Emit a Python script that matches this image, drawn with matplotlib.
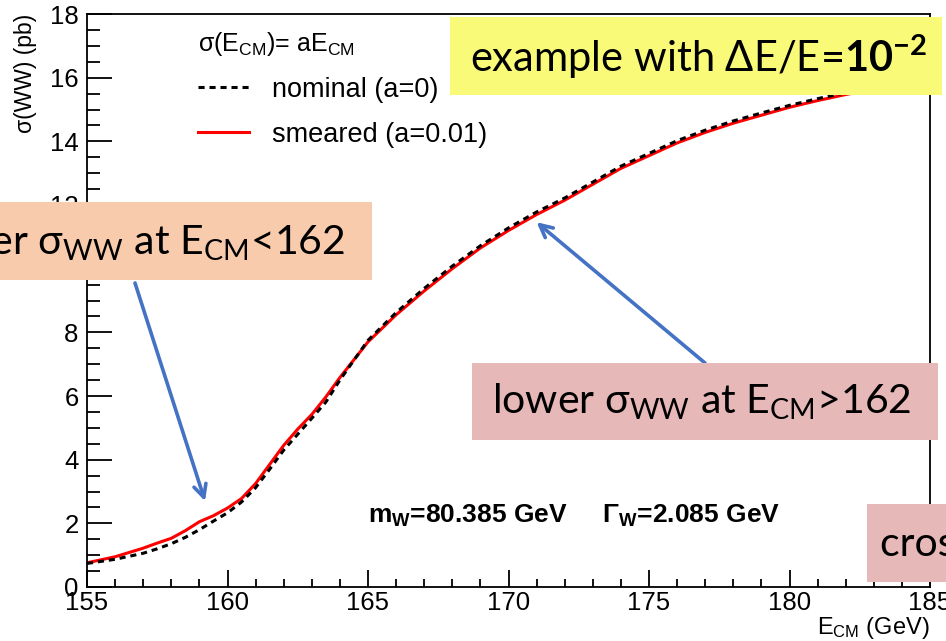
import matplotlib
matplotlib.use("Agg")
import matplotlib.pyplot as plt
from matplotlib.patches import Rectangle
from matplotlib.lines import Line2D
from matplotlib.ticker import MultipleLocator

plt.rcParams['font.family'] = ['Liberation Sans', 'DejaVu Sans']
plt.rcParams['mathtext.default'] = 'regular'
plt.rcParams['mathtext.fontset'] = 'custom'
plt.rcParams['mathtext.bf'] = 'Lato:bold'

# ---- data ----
energy = [155, 156, 157, 157.5, 158, 158.5, 159, 159.5, 160, 160.5, 161, 161.5, 162, 162.5,
          163, 163.5, 164, 165, 166, 167, 168, 169, 170, 171, 172, 173, 174, 175, 176,
          177, 178, 179, 180, 181, 182, 183, 184, 185]
sigma_smeared = [0.76, 0.95, 1.22, 1.38, 1.53, 1.77, 2.05, 2.24, 2.48, 2.78, 3.25, 3.85,
                 4.45, 4.96, 5.42, 5.97, 6.58, 7.70, 8.55, 9.30, 10.00, 10.65, 11.20,
                 11.70, 12.15, 12.65, 13.15, 13.55, 13.95, 14.28, 14.57, 14.82, 15.07,
                 15.28, 15.47, 15.64, 15.80, 15.95]
sigma_nominal = [0.74, 0.87, 1.06, 1.20, 1.36, 1.56, 1.80, 2.07, 2.33, 2.67, 3.12, 3.70,
                 4.30, 4.80, 5.30, 5.81, 6.50, 7.75, 8.62, 9.38, 10.08, 10.72, 11.28,
                 11.78, 12.22, 12.72, 13.22, 13.62, 14.02, 14.35, 14.64, 14.89, 15.13,
                 15.34, 15.53, 15.70, 15.86, 16.01]
x_ticks = [155, 160, 165, 170, 175, 180, 185]
y_ticks = [0, 2, 4, 6, 8, 10, 12, 14, 16, 18]

W, H = 946, 641
fig = plt.figure(figsize=(W / 100, H / 100), dpi=100)
ax = fig.add_axes([87 / W, (H - 587) / H, (930 - 87) / W, (587 - 14) / H])

dash = (0, (2.0, 1.6))
ax.plot(energy, sigma_nominal, color='black', lw=2.2, ls=dash, zorder=3)
ax.plot(energy, sigma_smeared, color='#ff0000', lw=2.2, zorder=2)

ax.set_xlim(155, 185)
ax.set_ylim(0, 18)
ax.set_xticks(x_ticks)
ax.set_yticks(y_ticks)
ax.xaxis.set_minor_locator(MultipleLocator(1))
ax.yaxis.set_minor_locator(MultipleLocator(0.5))
ax.tick_params(axis='both', which='both', direction='in', top=False, right=False,
               labelsize=18.5, width=1.3)
ax.tick_params(axis='y', which='major', length=18, pad=6)
ax.tick_params(axis='y', which='minor', length=9.5)
ax.tick_params(axis='x', which='major', length=12, pad=3)
ax.tick_params(axis='x', which='minor', length=6)
for s in ax.spines.values():
    s.set_linewidth(1.3)

ax.set_xlabel(r'E$_{CM}$ (GeV)', fontsize=17, loc='right', labelpad=0)
ax.set_ylabel('σ(WW) (pb)', fontsize=16.5, loc='top', labelpad=9)

# legend
handles = [Line2D([], [], color='black', lw=2.2, ls=dash),
           Line2D([], [], color='#ff0000', lw=2.2)]
leg = ax.legend(handles, ['nominal (a=0)', 'smeared (a=0.01)'],
                title=r'σ(E$_{CM}$)= aE$_{CM}$', title_fontsize=18,
                loc='upper left', bbox_to_anchor=(198 / W, (H - 30) / H),
                bbox_transform=fig.transFigure, frameon=False, fontsize=19.5,
                handlelength=1.9, handletextpad=0.85, labelspacing=0.7,
                borderpad=0, borderaxespad=0, alignment='left')

ax.text(368 / W, (H - 516) / H, r'm$_{W}$=80.385 GeV     Γ$_{W}$=2.085 GeV',
        transform=fig.transFigure, fontsize=19, fontweight='bold', va='center', ha='left')

# overlay boxes
ov = ['Lato', 'DejaVu Sans']


def box(x0, y0, x1, y1, color):
    fig.add_artist(Rectangle((x0 / W, (H - y1) / H), (x1 - x0) / W, (y1 - y0) / H,
                             transform=fig.transFigure, facecolor=color,
                             edgecolor='none', zorder=5))


box(450, 17, 942, 95, '#f9fb78')
fig.text(470 / W, (H - 57) / H, r'example with ΔE/E=$\mathbf{10}^{\mathbf{-2}}$',
         family=ov, fontsize=30, va='center', ha='left', zorder=6)

box(0, 202, 372, 280, '#f8cbad')
fig.text(345 / W, (H - 242) / H, r'higher σ$_{WW}$ at E$_{CM}$<162',
         family=ov, fontsize=29.5, va='center', ha='right', zorder=6)

box(472, 363, 938, 440, '#e6b8b7')
fig.text(492 / W, (H - 402) / H, r'lower σ$_{WW}$ at E$_{CM}$>162',
         family=ov, fontsize=29.5, va='center', ha='left', zorder=6)

box(867, 504, 946, 582, '#e6b8b7')
fig.text(880 / W, (H - 545) / H, 'cross section',
         family=ov, fontsize=29.5, va='center', ha='left', zorder=6)

# arrows
arrow = dict(arrowstyle='->,head_length=0.9,head_width=0.45', color='#4472c4', lw=2.6,
             shrinkA=0, shrinkB=0)
ax.annotate('', xy=(159.2, 2.7), xycoords='data', xytext=(135, H - 283),
            textcoords='figure pixels', arrowprops=arrow, annotation_clip=False, zorder=7)
ax.annotate('', xy=(171.0, 11.46), xycoords='data', xytext=(705, H - 363),
            textcoords='figure pixels', arrowprops=arrow, annotation_clip=False, zorder=7)

fig.savefig('out.png', dpi=100)
